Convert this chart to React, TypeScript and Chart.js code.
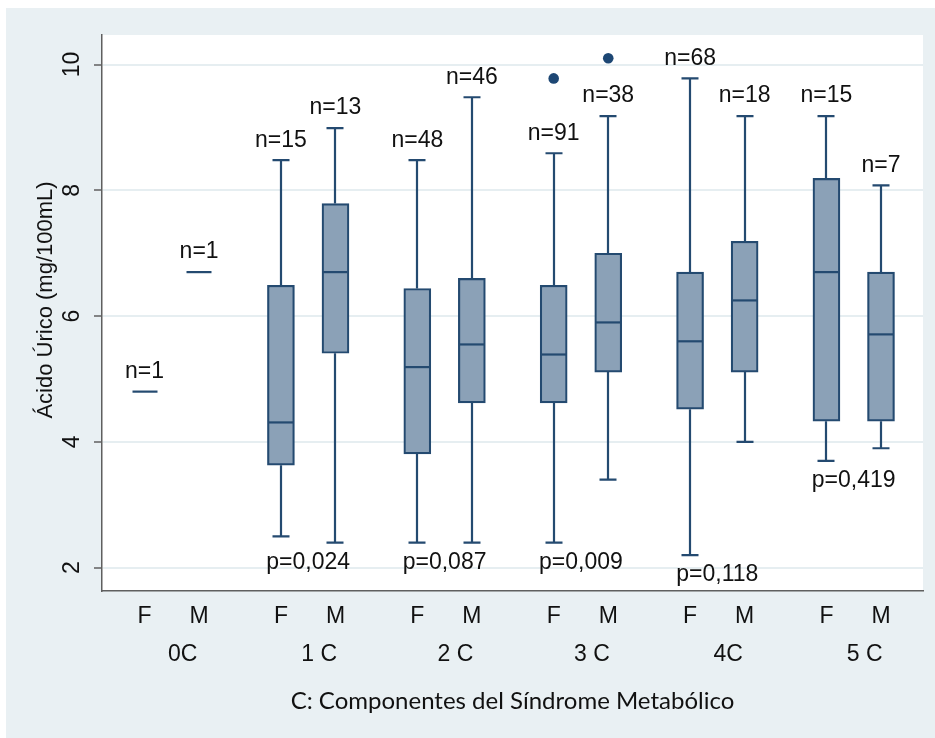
import React, { useEffect, useRef } from 'react';
import { Chart, registerables } from 'chart.js';

Chart.register(...registerables);

// ---------- data ----------
const groupLabels = ['0C', '1 C', '2 C', '3 C', '4C', '5 C'];
const sexLabels = ['F', 'M'];
// order: 0C F, 0C M, 1C F, 1C M, ... 5C F, 5C M
const lowerWhisker = [4.8, 6.7, 2.5, 2.4, 2.4, 2.4, 2.4, 3.4, 2.2, 4.0, 3.7, 3.9];
const q1Values = [4.8, 6.7, 3.63, 5.41, 3.81, 4.62, 4.62, 5.11, 4.52, 5.11, 4.33, 4.33];
const medianValues = [4.8, 6.7, 4.31, 6.7, 5.19, 5.55, 5.39, 5.9, 5.6, 6.25, 6.7, 5.71];
const q3Values = [4.8, 6.7, 6.49, 7.79, 6.44, 6.6, 6.49, 7.0, 6.7, 7.19, 8.19, 6.7];
const upperWhisker = [4.8, 6.7, 8.48, 8.99, 8.48, 9.48, 8.59, 9.18, 9.78, 9.18, 9.18, 8.08];
const outlierValues: number[][] = [[], [], [], [], [], [], [9.78], [10.1], [], [], [], []];
const nLabels = ['n=1', 'n=1', 'n=15', 'n=13', 'n=48', 'n=46', 'n=91', 'n=38', 'n=68', 'n=18', 'n=15', 'n=7'];
const pLabels = ['', 'p=0,024', 'p=0,087', 'p=0,009', 'p=0,118', 'p=0,419'];
const yTicks = [2, 4, 6, 8, 10];
const yTitle = 'Ácido Úrico (mg/100mL)';
const xTitle = 'C: Componentes del Síndrome Metabólico';

// ---------- layout / style ----------
const GROUP_STEP = 2.5;
const X_MIN = -0.78;
const X_MAX = 14.27;
const Y_MIN = 1.63;
const Y_MAX = 10.47;
const pos = (i: number) => Math.floor(i / 2) * GROUP_STEP + (i % 2);
const groupCenter = (g: number) => g * GROUP_STEP + 0.7;

const BG = '#e9f0f3';
const GRID = '#e6eef1';
const BOX_FILL = '#8ba1b7';
const BOX_LINE = '#244a70';
const DOT = '#1d4774';
const TEXT = '#111111';
const AXIS = '#5f5f5f';
const FONT = "'Liberation Sans', Arial, sans-serif";
const FS = 23;
const BOX_W = 27;
const CAP_W = 17;

const boxPlugin = {
  id: 'boxExtras',
  beforeDraw(chart: any) {
    const { ctx, chartArea, width, height } = chart;
    ctx.save();
    ctx.fillStyle = '#ffffff';
    ctx.fillRect(0, 0, width, height);
    ctx.fillStyle = BG;
    ctx.fillRect(6, 8, width - 6, height - 8);
    ctx.fillStyle = '#ffffff';
    ctx.fillRect(chartArea.left, chartArea.top, chartArea.right - chartArea.left, chartArea.bottom - chartArea.top);
    ctx.restore();
  },
  beforeDatasetsDraw(chart: any) {
    const ctx = chart.ctx;
    const xs = chart.scales.x;
    const ys = chart.scales.y;
    ctx.save();
    ctx.strokeStyle = BOX_LINE;
    ctx.lineWidth = 2.2;
    for (let i = 0; i < medianValues.length; i++) {
      if (q3Values[i] <= q1Values[i]) continue;
      const cx = Math.round(xs.getPixelForValue(pos(i)));
      const yUp = ys.getPixelForValue(upperWhisker[i]);
      const yQ3 = ys.getPixelForValue(q3Values[i]);
      const yQ1 = ys.getPixelForValue(q1Values[i]);
      const yLo = ys.getPixelForValue(lowerWhisker[i]);
      ctx.beginPath();
      ctx.moveTo(cx, yUp);
      ctx.lineTo(cx, yQ3);
      ctx.moveTo(cx, yQ1);
      ctx.lineTo(cx, yLo);
      ctx.moveTo(cx - CAP_W / 2, yUp);
      ctx.lineTo(cx + CAP_W / 2, yUp);
      ctx.moveTo(cx - CAP_W / 2, yLo);
      ctx.lineTo(cx + CAP_W / 2, yLo);
      ctx.stroke();
    }
    ctx.restore();
  },
  afterDatasetsDraw(chart: any) {
    const ctx = chart.ctx;
    const xs = chart.scales.x;
    const ys = chart.scales.y;
    ctx.save();
    ctx.strokeStyle = BOX_LINE;
    ctx.lineWidth = 2.2;
    for (let i = 0; i < medianValues.length; i++) {
      const cx = Math.round(xs.getPixelForValue(pos(i)));
      const py = ys.getPixelForValue(medianValues[i]);
      ctx.beginPath();
      ctx.moveTo(cx - BOX_W / 2 + 1, py);
      ctx.lineTo(cx + BOX_W / 2 - 1, py);
      ctx.stroke();
    }
    ctx.fillStyle = TEXT;
    ctx.font = `${FS}px ${FONT}`;
    ctx.textAlign = 'center';
    ctx.textBaseline = 'middle';
    nLabels.forEach((t, i) => {
      const cx = xs.getPixelForValue(pos(i));
      const py = ys.getPixelForValue(upperWhisker[i]);
      ctx.fillText(t, cx, py - 20);
    });
    pLabels.forEach((t, g) => {
      if (!t) return;
      const iF = g * 2;
      const iM = g * 2 + 1;
      const cx = (xs.getPixelForValue(pos(iF)) + xs.getPixelForValue(pos(iM))) / 2;
      const py = Math.max(ys.getPixelForValue(lowerWhisker[iF]), ys.getPixelForValue(lowerWhisker[iM]));
      ctx.fillText(t, cx, py + 20);
    });
    ctx.restore();
  },
  afterDraw(chart: any) {
    const ctx = chart.ctx;
    const ys = chart.scales.y;
    ctx.save();
    ctx.fillStyle = TEXT;
    ctx.font = `${FS}px ${FONT}`;
    ctx.textAlign = 'center';
    ctx.textBaseline = 'middle';
    yTicks.forEach((v) => {
      const py = ys.getPixelForValue(v);
      ctx.save();
      ctx.translate(ys.right - 29, py);
      ctx.rotate(-Math.PI / 2);
      ctx.fillText(String(v), 0, 0);
      ctx.restore();
    });
    ctx.save();
    ctx.font = `22px ${FONT}`;
    ctx.translate(ys.right - 56, (chart.chartArea.top + chart.chartArea.bottom) / 2 - 13);
    ctx.rotate(-Math.PI / 2);
    ctx.fillText(yTitle, 0, 0);
    ctx.restore();
    ctx.restore();
  },
};

export default function App() {
  const canvasRef = useRef<HTMLCanvasElement | null>(null);

  useEffect(() => {
    const canvas = canvasRef.current;
    if (!canvas) return;

    const boxData: any[] = [];
    for (let i = 0; i < q1Values.length; i++) {
      if (q3Values[i] > q1Values[i]) boxData.push({ x: pos(i), y: [q1Values[i], q3Values[i]] });
    }
    const outlierData: any[] = [];
    outlierValues.forEach((vals, i) => vals.forEach((v) => outlierData.push({ x: pos(i), y: v })));

    const xTickPositions = q1Values.map((_, i) => pos(i));
    const xTickLabels = q1Values.map((_, i) => sexLabels[i % 2]);
    const groupPositions = groupLabels.map((_, g) => groupCenter(g));

    const chart = new Chart(canvas, {
      type: 'bar',
      data: {
        datasets: [
          {
            type: 'bar',
            data: boxData,
            backgroundColor: BOX_FILL,
            borderColor: BOX_LINE,
            borderWidth: 2.2,
            borderSkipped: false,
            barThickness: BOX_W,
          } as any,
          {
            type: 'scatter',
            data: outlierData,
            backgroundColor: DOT,
            borderColor: DOT,
            pointRadius: 5.3,
            borderWidth: 0,
          } as any,
        ],
      },
      options: {
        animation: false,
        responsive: false,
        maintainAspectRatio: false,
        layout: { padding: { left: 0, top: 35, right: 12, bottom: 0 } },
        plugins: { legend: { display: false }, tooltip: { enabled: false }, title: { display: false } },
        scales: {
          x: {
            type: 'linear',
            position: 'bottom',
            offset: false,
            min: X_MIN,
            max: X_MAX,
            weight: 0,
            afterBuildTicks: (s: any) => {
              s.ticks = xTickPositions.map((v) => ({ value: v }));
            },
            afterFit: (s: any) => {
              s.height = 40;
            },
            grid: { display: false, drawTicks: false, offset: false },
            border: { display: true, color: AXIS, width: 1.5 },
            ticks: {
              autoSkip: false,
              maxRotation: 0,
              minRotation: 0,
              padding: 12,
              color: TEXT,
              font: { family: FONT, size: FS },
              callback: (_v: any, i: number) => xTickLabels[i],
            },
          },
          x2: {
            type: 'linear',
            position: 'bottom',
            offset: false,
            min: X_MIN,
            max: X_MAX,
            weight: 1,
            afterBuildTicks: (s: any) => {
              s.ticks = groupPositions.map((v) => ({ value: v }));
            },
            afterFit: (s: any) => {
              s.height = 107;
            },
            grid: { display: false, drawTicks: false, offset: false },
            border: { display: false },
            ticks: {
              autoSkip: false,
              maxRotation: 0,
              minRotation: 0,
              padding: 10,
              color: TEXT,
              font: { family: FONT, size: FS },
              callback: (_v: any, i: number) => groupLabels[i],
            },
            title: {
              display: true,
              text: xTitle,
              color: TEXT,
              font: { family: 'Lato, "Open Sans", sans-serif', size: 24 },
              padding: { top: 0, bottom: 22 },
            },
          },
          y: {
            type: 'linear',
            min: Y_MIN,
            max: Y_MAX,
            afterBuildTicks: (s: any) => {
              s.ticks = yTicks.map((v) => ({ value: v }));
            },
            afterFit: (s: any) => {
              s.width = 102;
            },
            grid: {
              color: GRID,
              lineWidth: 2,
              drawTicks: true,
              tickLength: 8,
              tickColor: AXIS,
              tickWidth: 1.5,
            },
            border: { display: true, color: AXIS, width: 1.5 },
            ticks: { display: false },
          },
        },
      } as any,
      plugins: [boxPlugin],
    });

    return () => {
      chart.destroy();
    };
  }, []);

  return (
    <div style={{ position: 'absolute', left: 0, top: 0, width: 935, height: 738 }}>
      <canvas ref={canvasRef} width={935} height={738} style={{ display: 'block', width: 935, height: 738 }} />
    </div>
  );
}
